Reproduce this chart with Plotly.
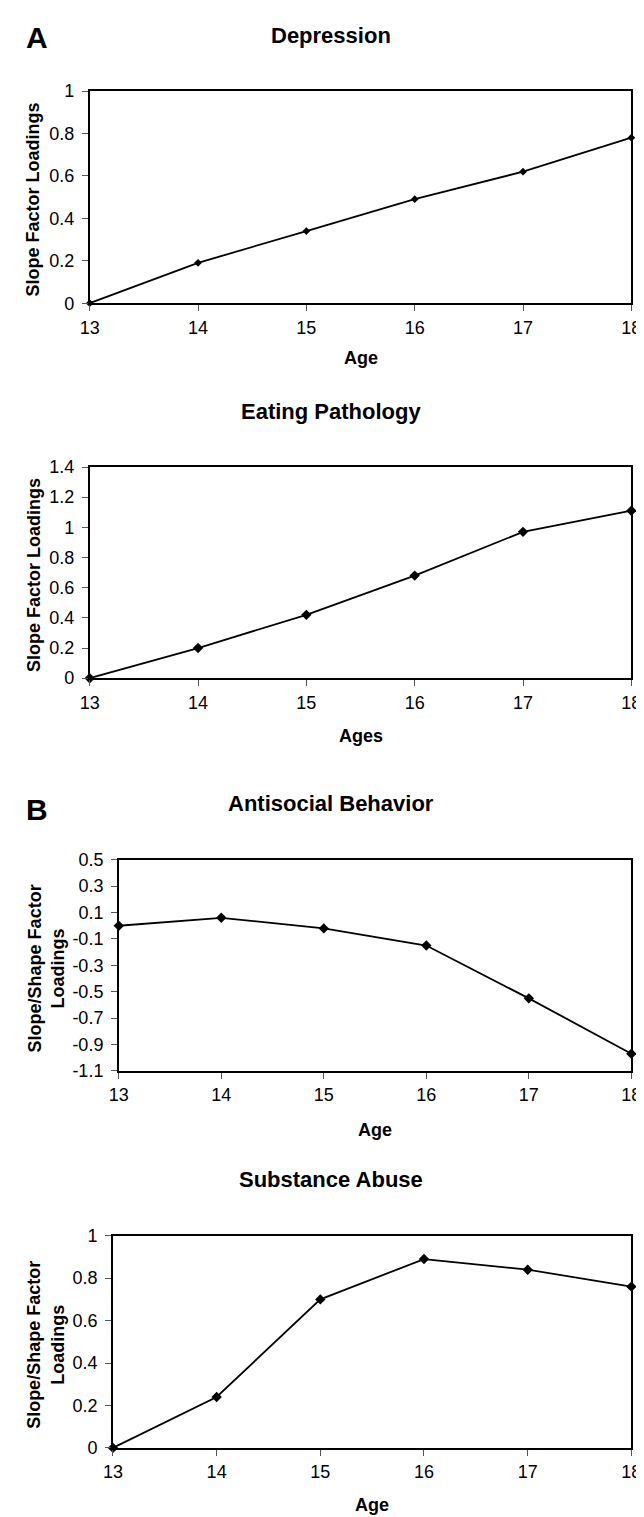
import plotly.graph_objects as go

W, H = 644, 1517

ages = [13, 14, 15, 16, 17, 18]
depression = [0.0, 0.19, 0.34, 0.49, 0.62, 0.78]
eating = [0.0, 0.20, 0.42, 0.68, 0.97, 1.11]
antisocial = [0.0, 0.06, -0.02, -0.15, -0.55, -0.97]
substance = [0.0, 0.24, 0.70, 0.89, 0.84, 0.76]

panel_titles = ["Depression", "Eating Pathology", "Antisocial Behavior", "Substance Abuse"]
x_titles = ["Age", "Ages", "Age", "Age"]
y_titles = ["Slope Factor Loadings", "Slope Factor Loadings",
            "Slope/Shape Factor<br>Loadings", "Slope/Shape Factor<br>Loadings"]
y_ticks = [
    [0, 0.2, 0.4, 0.6, 0.8, 1],
    [0, 0.2, 0.4, 0.6, 0.8, 1, 1.2, 1.4],
    [-1.1, -0.9, -0.7, -0.5, -0.3, -0.1, 0.1, 0.3, 0.5],
    [0, 0.2, 0.4, 0.6, 0.8, 1],
]
y_ranges = [[0, 1], [0, 1.4], [-1.1, 0.5], [0, 1]]
series = [depression, eating, antisocial, substance]
marker_sizes = [6, 8, 8, 8]

# pixel boxes (left, right, top, bottom)
boxes = [(74, 633, 74, 289), (74, 633, 455, 669), (104, 633, 853, 1067), (98, 633, 1234, 1449)]
title_y = [18, 399, 796, 1177]
xtitle_y = [345, 728, 1127, 1507]

FONT = "Liberation Sans, Arial, sans-serif"

fig = go.Figure()
layout = dict(
    width=W, height=H, margin=dict(l=0, r=0, t=0, b=0),
    paper_bgcolor="white", plot_bgcolor="white", showlegend=False,
    font=dict(family=FONT, color="black"),
)
annotations = []


def px(x):
    return x / W


def py(y):
    return 1 - y / H


for i in range(4):
    l, r, t, b = boxes[i]
    xa = "xaxis" if i == 0 else f"xaxis{i+1}"
    ya = "yaxis" if i == 0 else f"yaxis{i+1}"
    xref = "x" if i == 0 else f"x{i+1}"
    yref = "y" if i == 0 else f"y{i+1}"
    fig.add_trace(go.Scatter(
        x=ages, y=series[i], mode="lines+markers", xaxis=xref, yaxis=yref,
        line=dict(color="black", width=1.8),
        marker=dict(symbol="diamond", size=marker_sizes[i], color="black"),
        cliponaxis=False,
    ))
    layout[xa] = dict(
        domain=[px(l), px(r)], anchor=yref, range=[13, 18],
        tickvals=ages, ticktext=[str(a) for a in ages],
        ticks="outside", ticklen=6, tickwidth=1, tickcolor="#555",
        showline=True, linecolor="black", linewidth=1.5, mirror=True,
        showgrid=False, zeroline=False,
        tickfont=dict(family=FONT, size=18, color="black"),
        ticklabelstandoff=1,
    )
    layout[ya] = dict(
        domain=[py(b), py(t)], anchor=xref, range=y_ranges[i],
        tickvals=y_ticks[i], ticktext=[f"{v:g}" for v in y_ticks[i]],
        ticks="outside", ticklen=6, tickwidth=1, tickcolor="#555",
        showline=True, linecolor="black", linewidth=1.5, mirror=True,
        showgrid=False, zeroline=False,
        tickfont=dict(family=FONT, size=18, color="black"),
        ticklabelstandoff=4,
    )
    annotations.append(dict(
        text=f"<b>{panel_titles[i]}</b>", x=px(323), y=py(title_y[i]),
        xref="paper", yref="paper", xanchor="center", yanchor="middle",
        showarrow=False, font=dict(family=FONT, size=22, color="black"),
    ))
    annotations.append(dict(
        text=f"<b>{x_titles[i]}</b>", x=px((l + r) / 2), y=py(xtitle_y[i]),
        xref="paper", yref="paper", xanchor="center", yanchor="middle",
        showarrow=False, font=dict(family=FONT, size=18, color="black"),
    ))
    ytx = 16 if i < 2 else 29
    annotations.append(dict(
        text=f"<b>{y_titles[i]}</b>", x=px(ytx), y=py((t + b) / 2 + 3),
        xref="paper", yref="paper", xanchor="center", yanchor="middle",
        textangle=-90, showarrow=False,
        font=dict(family=FONT, size=18, color="black"),
    ))

annotations.append(dict(text="<b>A</b>", x=px(20), y=py(20), xref="paper", yref="paper",
                        xanchor="center", yanchor="middle", showarrow=False,
                        font=dict(family=FONT, size=30, color="black")))
annotations.append(dict(text="<b>B</b>", x=px(20), y=py(802), xref="paper", yref="paper",
                        xanchor="center", yanchor="middle", showarrow=False,
                        font=dict(family=FONT, size=30, color="black")))

layout["annotations"] = annotations
fig.update_layout(**layout)
fig.write_html("out.html")
